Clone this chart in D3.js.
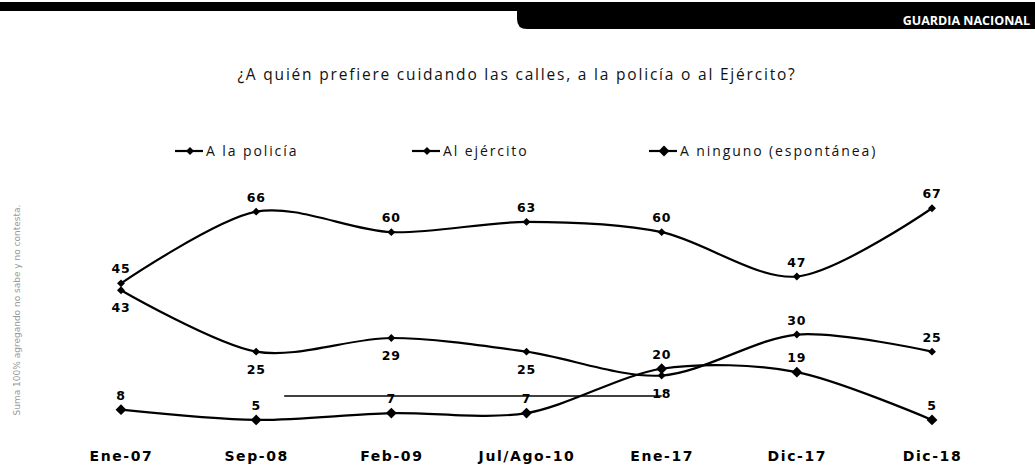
<!DOCTYPE html>
<html>
<head>
<meta charset="utf-8">
<script src="https://cdn.jsdelivr.net/npm/d3@7"></script>
<style>
  html, body { margin: 0; padding: 0; background: #fff; }
  svg { display: block; }
</style>
</head>
<body>
<div id="viz"></div>
<script>
// chart values
const periods = ['Ene-07', 'Sep-08', 'Feb-09', 'Jul/Ago-10', 'Ene-17', 'Dic-17', 'Dic-18'];
const seriesNames = ['A la policía', 'Al ejército', 'A ninguno (espontánea)'];
const ejercitoValues = [45, 66, 60, 63, 60, 47, 67];
const policiaValues = [43, 25, 29, 25, 18, 30, 25];
const ningunoValues = [8, 5, 7, 7, 20, 19, 5];
// where each data label sits ('up' above the point, 'down' below)
const ejercitoLabelSide = ['up', 'up', 'up', 'up', 'up', 'up', 'up'];
const policiaLabelSide = ['down', 'down', 'down', 'down', 'down', 'up', 'up'];
const ningunoLabelSide = ['up', 'up', 'up', 'up', 'up', 'up', 'up'];
// stray leader line in the original chart
const strayLine = {from: 'Sep-08', to: 'Ene-17', value: 12};

const title = '¿A quién prefiere cuidando las calles, a la policía o al Ejército?';
const sectionLabel = 'GUARDIA NACIONAL';
const sideNote = 'Suma 100% agregando no sabe y no contesta.';

const width = 1035;
const height = 466;

const svg = d3.select('#viz').append('svg')
  .attr('width', width)
  .attr('height', height);

// header band and tab
svg.append('rect')
  .attr('x', 0).attr('y', 2)
  .attr('width', width).attr('height', 9)
  .style('fill', '#000');
svg.append('path')
  .attr('d', 'M517,6 H1035 V29 H527 Q517,29 517,19 Z')
  .style('fill', '#000');
svg.append('text')
  .attr('x', 1030).attr('y', 25)
  .attr('text-anchor', 'end')
  .style('font-family', 'Open Sans, sans-serif')
  .style('font-weight', 'bold')
  .style('font-size', '12.5px')
  .style('fill', '#fff')
  .text(sectionLabel);

// title
svg.append('text')
  .attr('x', 517).attr('y', 80)
  .attr('text-anchor', 'middle')
  .style('font-family', 'Open Sans, sans-serif')
  .style('font-size', '15.5px')
  .style('letter-spacing', '1.8px')
  .style('fill', '#111')
  .text(title);

// side note
svg.append('text')
  .attr('transform', 'translate(20,310) rotate(-90)')
  .attr('text-anchor', 'middle')
  .style('font-family', 'DejaVu Sans, sans-serif')
  .style('font-size', '9px')
  .style('fill', '#999')
  .text(sideNote);

const x = d3.scalePoint().domain(periods).range([121, 932]);
const y = d3.scaleLinear().domain([0, 70]).range([437, 198]);

const series = [
  {name: seriesNames[0], values: policiaValues, sides: policiaLabelSide, marker: 40},
  {name: seriesNames[1], values: ejercitoValues, sides: ejercitoLabelSide, marker: 40},
  {name: seriesNames[2], values: ningunoValues, sides: ningunoLabelSide, marker: 75},
];

const line = d3.line()
  .x((d, i) => x(periods[i]))
  .y(d => y(d))
  .curve(d3.curveCardinal.tension(0.1));

const diamond = size => d3.symbol().type(d3.symbolDiamond2).size(size)();

// stray horizontal line
svg.append('line')
  .attr('x1', x(strayLine.from) + 28)
  .attr('x2', x(strayLine.to))
  .attr('y1', y(strayLine.value))
  .attr('y2', y(strayLine.value))
  .style('stroke', '#000')
  .style('stroke-width', 1.5);

series.forEach(s => {
  const g = svg.append('g');
  g.append('path')
    .attr('d', line(s.values))
    .style('stroke', '#000')
    .style('stroke-width', 2.2)
    .style('fill', 'none');

  g.selectAll('path.mark')
    .data(s.values)
    .join('path')
    .attr('class', 'mark')
    .attr('transform', (d, i) => `translate(${x(periods[i])},${y(d)})`)
    .attr('d', diamond(s.marker))
    .style('fill', '#000');

  g.selectAll('text')
    .data(s.values)
    .join('text')
    .attr('x', (d, i) => x(periods[i]))
    .attr('y', (d, i) => y(d) + (s.sides[i] === 'up' ? -10 : 22))
    .attr('text-anchor', 'middle')
    .style('font-family', 'DejaVu Sans, sans-serif')
    .style('font-weight', 'bold')
    .style('font-size', '12.5px')
    .style('letter-spacing', '0.8px')
    .style('fill', '#000')
    .text(d => d);
});

// x axis labels
const xAxis = d3.axisBottom(x).tickSize(0).tickPadding(0);
const axisG = svg.append('g')
  .attr('transform', 'translate(0,451)')
  .call(xAxis);
axisG.select('.domain').remove();
axisG.selectAll('text')
  .style('font-family', 'DejaVu Sans, sans-serif')
  .style('font-weight', 'bold')
  .style('font-size', '14px')
  .style('letter-spacing', '1.6px')
  .style('fill', '#000');

// legend
const legendX = d3.scalePoint().domain(seriesNames).range([175, 649]);
const legend = svg.selectAll('g.legend')
  .data(series)
  .join('g')
  .attr('class', 'legend')
  .attr('transform', d => `translate(${legendX(d.name)},151)`);
legend.append('line')
  .attr('x1', 0).attr('x2', 28)
  .style('stroke', '#000')
  .style('stroke-width', 2.2);
legend.append('path')
  .attr('transform', 'translate(15,0)')
  .attr('d', d => diamond(d.marker))
  .style('fill', '#000');
legend.append('text')
  .attr('x', 31).attr('y', 5)
  .style('font-family', 'Open Sans, sans-serif')
  .style('font-size', '14px')
  .style('letter-spacing', '1.9px')
  .style('fill', '#111')
  .text(d => d.name);
</script>
</body>
</html>
